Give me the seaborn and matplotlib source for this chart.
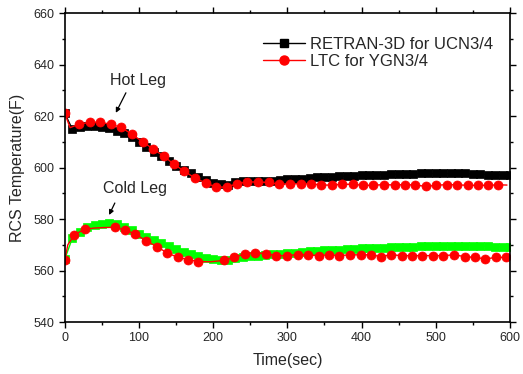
import seaborn as sns
import matplotlib.pyplot as plt
from matplotlib.lines import Line2D
from matplotlib.ticker import MultipleLocator

# RETRAN-3D for UCN3/4, one point every 10 s
retran_time = [0, 10, 20, 30, 40, 50, 60, 70, 80, 90, 100, 110, 120, 130, 140,
               150, 160, 170, 180, 190, 200, 210, 220, 230, 240, 250, 260, 270,
               280, 290, 300, 310, 320, 330, 340, 350, 360, 370, 380, 390, 400,
               410, 420, 430, 440, 450, 460, 470, 480, 490, 500, 510, 520, 530,
               540, 550, 560, 570, 580, 590, 600]
retran_hot = [621.0, 615.0, 615.6, 616.0, 616.0, 615.8, 615.3, 614.3, 613.3, 611.7,
              609.8, 607.8, 605.9, 604.3, 602.5, 600.6, 599.0, 597.7, 596.3, 595.0,
              594.1, 593.5, 593.3, 594.4, 594.6, 594.6, 594.6, 594.7, 594.9, 595.2,
              595.4, 595.5, 595.7, 596.0, 596.2, 596.3, 596.5, 596.6, 596.7, 596.9,
              597.0, 597.1, 597.2, 597.3, 597.4, 597.5, 597.6, 597.6, 597.7, 597.7,
              597.7, 597.7, 597.7, 597.7, 597.7, 597.6, 597.5, 597.3, 597.2, 597.1,
              597.0]
retran_cold = [564.5, 572.5, 574.8, 576.8, 577.6, 578.1, 578.3, 578.0, 577.0, 575.7,
               574.3, 573.0, 571.9, 570.8, 569.6, 568.2, 567.3, 566.4, 565.5, 564.8,
               564.3, 564.1, 564.2, 564.8, 565.2, 565.5, 565.8, 566.0, 566.3, 566.6,
               566.8, 567.0, 567.3, 567.5, 567.7, 567.8, 568.0, 568.1, 568.3, 568.4,
               568.6, 568.7, 568.8, 568.9, 569.0, 569.1, 569.2, 569.3, 569.4, 569.5,
               569.6, 569.6, 569.7, 569.7, 569.7, 569.6, 569.5, 569.4, 569.3, 569.2,
               569.1]

# LTC for YGN3/4 - hot leg (some line points carry no marker)
ltc_hot_time = [0, 7, 19, 34, 48, 62, 76, 90, 105, 119, 133, 147, 161, 175, 190,
                204, 218, 232, 246, 260, 275, 289, 303, 318, 332, 345, 360, 374,
                388, 402, 416, 430, 445, 458, 472, 487, 501, 515, 528, 543, 557,
                571, 584, 596]
ltc_hot = [621.0, 615.5, 616.8, 617.6, 617.6, 616.8, 615.6, 613.0, 610.0, 607.2,
           604.5, 601.3, 598.6, 596.0, 594.0, 592.4, 592.4, 593.7, 594.4, 594.4,
           594.2, 593.5, 593.7, 593.7, 593.7, 593.2, 593.2, 593.5, 593.5, 593.1,
           593.1, 593.4, 593.2, 593.4, 593.2, 592.7, 593.1, 593.4, 593.3, 593.1,
           593.1, 593.1, 593.3, 593.2]
ltc_hot_nomark = [7, 596]

# LTC for YGN3/4 - cold leg
ltc_cold_time = [0, 4, 13, 27, 40, 53, 67, 81, 95, 109, 124, 138, 152, 166, 180,
                 196, 214, 228, 243, 257, 271, 285, 299, 314, 328, 342, 356, 370,
                 384, 399, 413, 426, 440, 455, 468, 482, 496, 510, 525, 539, 553,
                 567, 581, 595, 598]
ltc_cold = [564.1, 570.0, 573.9, 576.1, 576.5, 576.7, 576.8, 575.7, 574.2, 571.6,
            569.3, 566.8, 565.2, 564.2, 563.5, 563.4, 563.9, 565.1, 566.5, 567.0,
            566.5, 565.8, 565.8, 566.2, 566.1, 565.8, 566.1, 565.8, 566.1, 566.1,
            566.1, 565.4, 566.1, 565.8, 565.8, 565.8, 565.8, 565.8, 566.1, 565.4,
            565.1, 564.5, 565.1, 565.1, 565.1]
ltc_cold_nomark = [4, 40, 53, 196, 598]

legend_labels = ['RETRAN-3D for UCN3/4', 'LTC for YGN3/4']

sns.set_style('ticks')
plt.rcParams['font.family'] = ['Liberation Sans', 'DejaVu Sans']

fig, ax = plt.subplots(figsize=(5.23, 3.74), dpi=100)
fig.subplots_adjust(left=0.124, right=0.975, top=0.965, bottom=0.139)

sq = dict(marker='s', markersize=5.2, markeredgewidth=0.5, linewidth=1)
sns.lineplot(x=retran_time, y=retran_hot, color='black', markeredgecolor='black', ax=ax, **sq)
sns.lineplot(x=retran_time, y=retran_cold, color='#00ff00', markeredgecolor='#00ff00', ax=ax, **sq)

def marked(times, skip):
    return [i for i, t in enumerate(times) if t not in skip]

circ = dict(marker='o', markersize=6.5, markeredgewidth=0.5, linewidth=1,
            color='red', markeredgecolor='red')
sns.lineplot(x=ltc_hot_time, y=ltc_hot, markevery=marked(ltc_hot_time, ltc_hot_nomark), ax=ax, **circ)
sns.lineplot(x=ltc_cold_time, y=ltc_cold, markevery=marked(ltc_cold_time, ltc_cold_nomark), ax=ax, **circ)

ax.set_xlim(0, 600)
ax.set_ylim(540, 660)
ax.xaxis.set_major_locator(MultipleLocator(100))
ax.xaxis.set_minor_locator(MultipleLocator(50))
ax.yaxis.set_major_locator(MultipleLocator(20))
ax.yaxis.set_minor_locator(MultipleLocator(10))
ax.tick_params(which='both', direction='out', top=True, right=True,
               labeltop=False, labelright=False, width=1, labelsize=9, color='black')
ax.tick_params(which='major', length=4)
ax.tick_params(which='minor', length=2.5)
for s in ax.spines.values():
    s.set_visible(True)
    s.set_linewidth(1.2)
    s.set_color('black')

ax.set_xlabel('Time(sec)', fontsize=11.5, labelpad=6)
ax.set_ylabel('RCS Temperature(F)', fontsize=11.5, labelpad=6)

ax.text(98, 634, 'Hot Leg', fontsize=11.5, ha='center', va='center')
ax.annotate('', xy=(67, 620.3), xytext=(84, 630),
            arrowprops=dict(arrowstyle='-|>', color='black', lw=0.9, mutation_scale=7))
ax.text(94, 591.7, 'Cold Leg', fontsize=11.5, ha='center', va='center')
ax.annotate('', xy=(58, 580.6), xytext=(69, 587.2),
            arrowprops=dict(arrowstyle='-|>', color='black', lw=0.9, mutation_scale=7))

handles = [Line2D([], [], color='black', marker='s', markersize=5.2, lw=1),
           Line2D([], [], color='red', marker='o', markersize=6.5, lw=1)]
ax.legend(handles, legend_labels, loc='upper left', bbox_to_anchor=(0.445, 0.923),
          frameon=False, fontsize=12, handlelength=2.5, handletextpad=0.35,
          labelspacing=0.1, borderpad=0, borderaxespad=0)

plt.savefig('out.png', dpi=100)
